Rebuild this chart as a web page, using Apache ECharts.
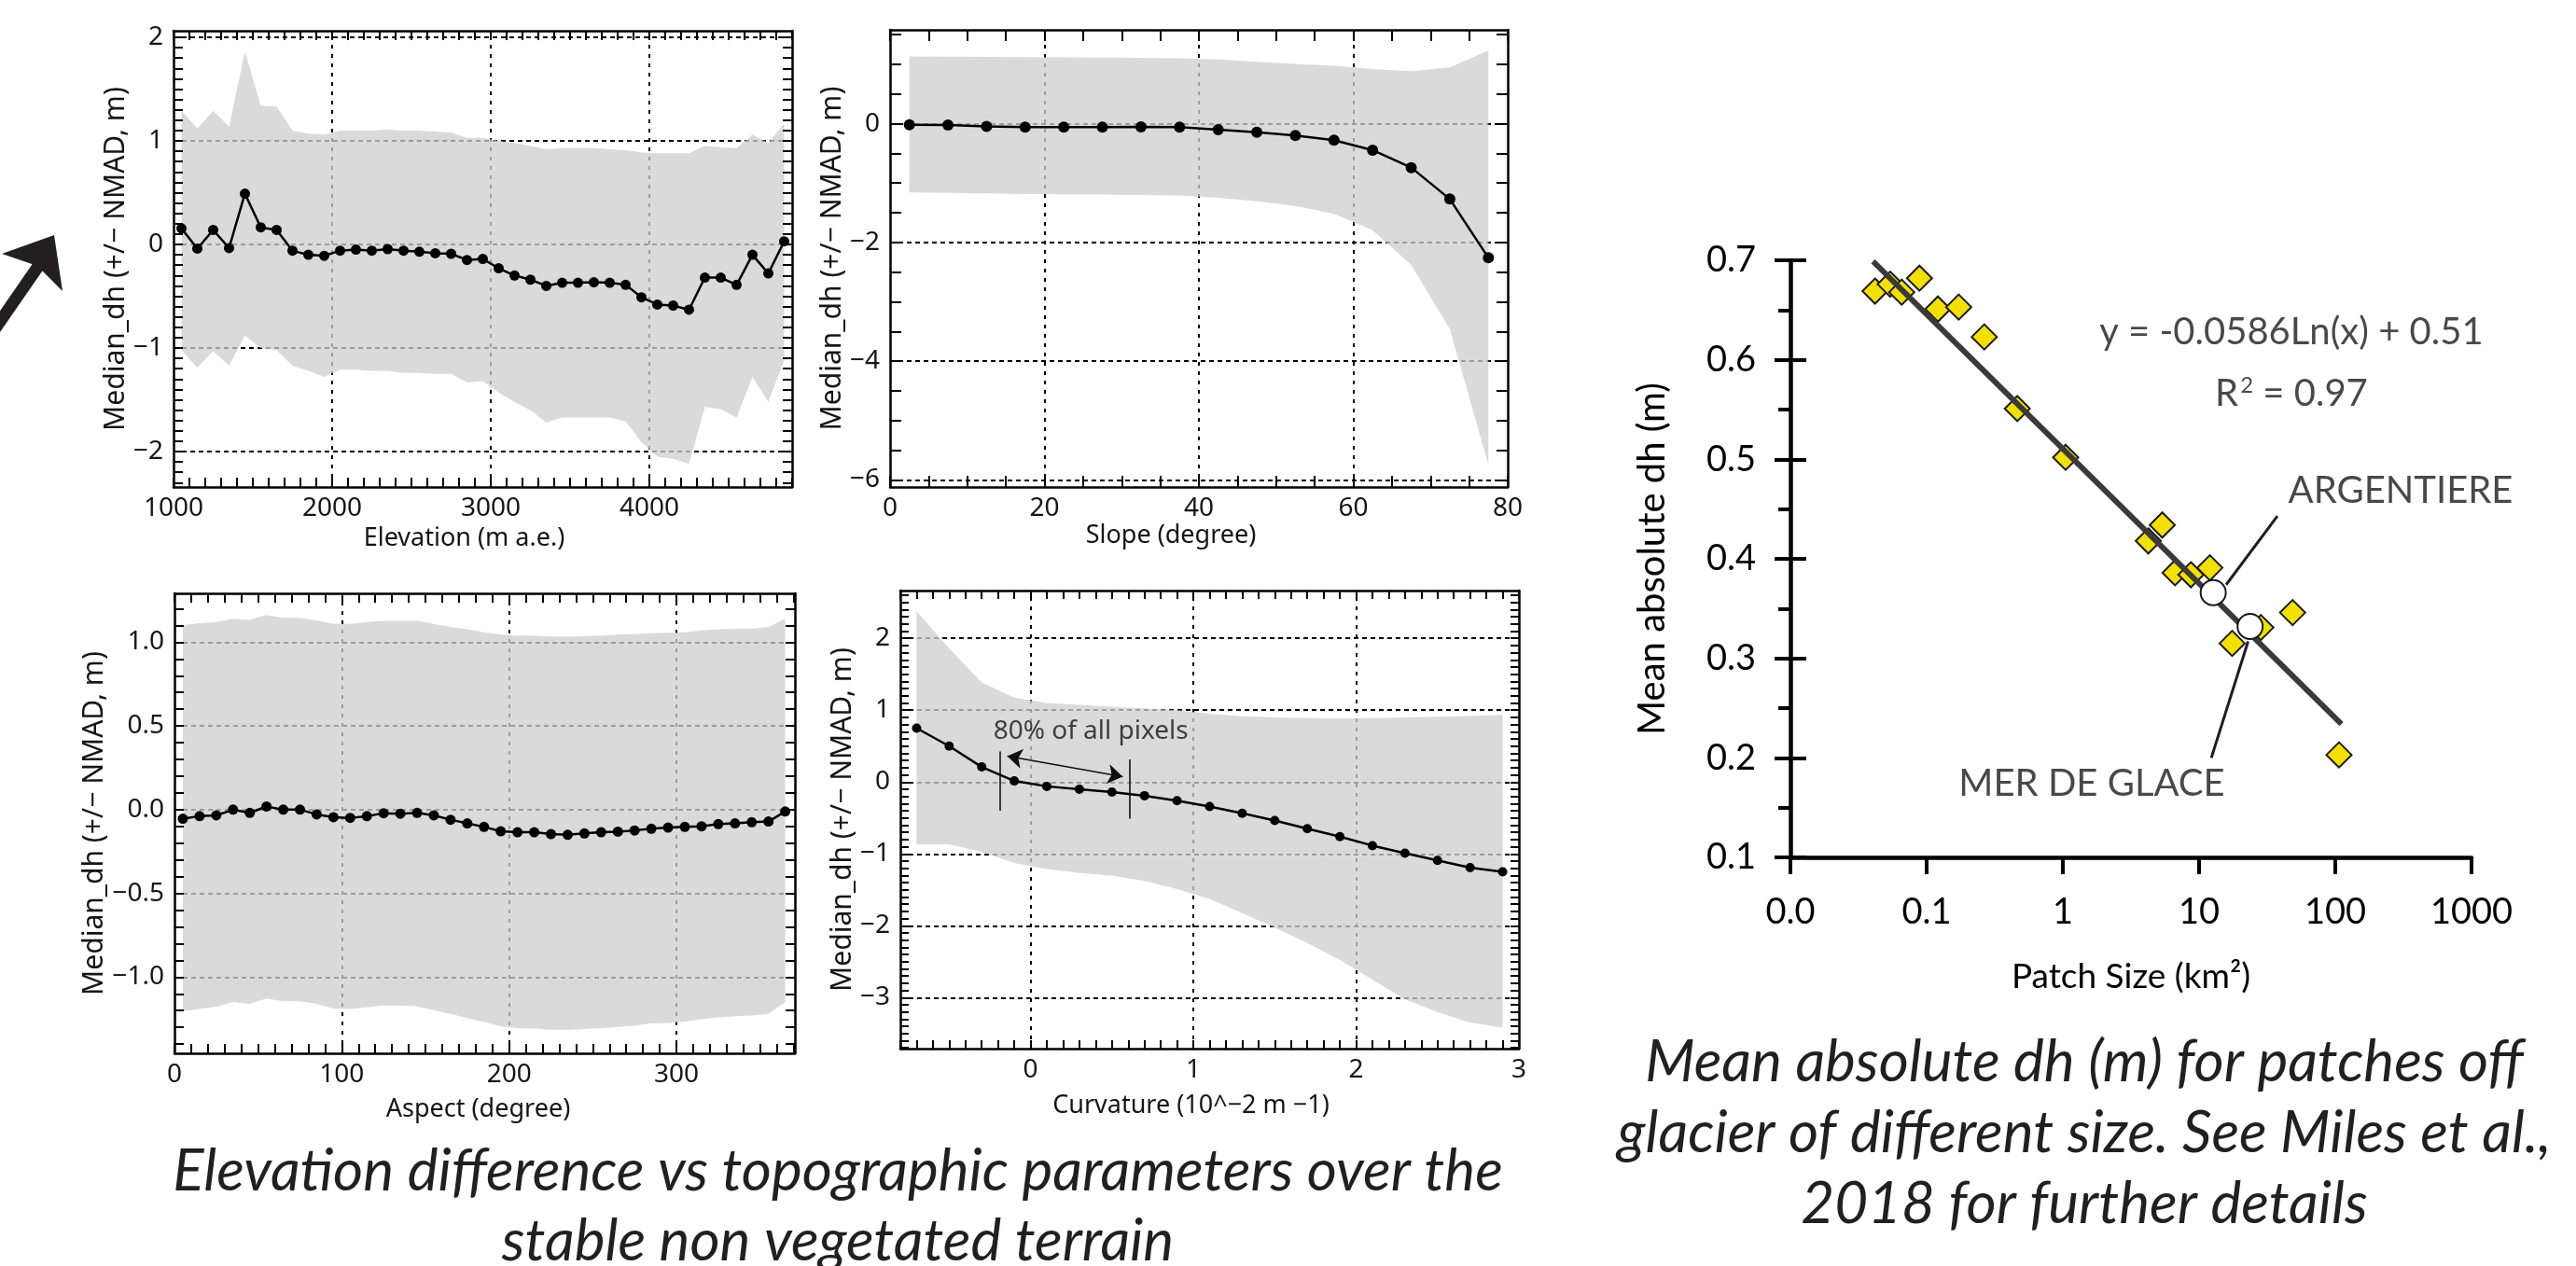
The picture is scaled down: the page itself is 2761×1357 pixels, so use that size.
<!DOCTYPE html>
<html><head><meta charset="utf-8">
<script src="https://cdn.jsdelivr.net/npm/echarts@6/dist/echarts.min.js"></script>
<style>html,body{margin:0;padding:0;background:#fff;}#c{width:2761px;height:1357px;}</style>
</head><body><div id="c"></div>
<script>
// ---------------- DATA ----------------
// Elevation panel
const elevX = [1050,1150,1250,1350,1450,1550,1650,1750,1850,1950,2050,2150,2250,2350,2450,2550,2650,2750,2850,2950,3050,3150,3250,3350,3450,3550,3650,3750,3850,3950,4050,4150,4250,4350,4450,4550,4650,4750,4850];
const elevMedian = [0.155,-0.04,0.14,-0.035,0.49,0.165,0.14,-0.06,-0.10,-0.11,-0.06,-0.05,-0.06,-0.045,-0.06,-0.07,-0.085,-0.09,-0.15,-0.14,-0.23,-0.30,-0.34,-0.40,-0.37,-0.37,-0.365,-0.37,-0.39,-0.51,-0.58,-0.59,-0.63,-0.32,-0.32,-0.39,-0.10,-0.28,0.03];
const elevUpper = [1.29,1.12,1.29,1.14,1.86,1.34,1.33,1.10,1.07,1.06,1.10,1.10,1.10,1.11,1.10,1.10,1.09,1.08,1.03,1.03,1.00,0.98,0.95,0.92,0.93,0.93,0.93,0.92,0.91,0.89,0.88,0.88,0.88,0.95,0.94,0.93,1.06,0.98,1.17];
const elevLower = [-1.02,-1.19,-1.03,-1.17,-0.88,-1.00,-1.02,-1.17,-1.22,-1.28,-1.21,-1.21,-1.22,-1.22,-1.24,-1.24,-1.25,-1.25,-1.33,-1.32,-1.43,-1.52,-1.60,-1.72,-1.67,-1.67,-1.67,-1.67,-1.71,-1.91,-2.05,-2.07,-2.12,-1.57,-1.59,-1.67,-1.28,-1.52,-1.12];
const elevXLabels = [1000,2000,3000,4000];
const elevYLabels = [-2,-1,0,1,2];

// Slope panel
const slopeX = [2.5,7.5,12.5,17.5,22.5,27.5,32.5,37.5,42.5,47.5,52.5,57.5,62.5,67.5,72.5,77.5];
const slopeMedian = [-0.018,-0.024,-0.048,-0.06,-0.06,-0.06,-0.054,-0.06,-0.10,-0.145,-0.20,-0.277,-0.446,-0.74,-1.27,-2.26];
const slopeUpper = [1.133,1.13,1.125,1.12,1.115,1.113,1.11,1.10,1.08,1.04,1.006,0.976,0.92,0.886,0.946,1.235];
const slopeLower = [-1.157,-1.165,-1.175,-1.185,-1.19,-1.195,-1.20,-1.21,-1.25,-1.307,-1.386,-1.518,-1.795,-2.38,-3.46,-5.75];
const slopeXLabels = [0,20,40,60,80];
const slopeYLabels = [-6,-4,-2,0];

// Aspect panel
const aspectX = [5,15,25,35,45,55,65,75,85,95,105,115,125,135,145,155,165,175,185,195,205,215,225,235,245,255,265,275,285,295,305,315,325,335,345,355,365];
const aspectMedian = [-0.054,-0.039,-0.034,0.0,-0.019,0.019,0.0,0.0,-0.028,-0.045,-0.049,-0.039,-0.021,-0.024,-0.019,-0.034,-0.06,-0.082,-0.103,-0.129,-0.135,-0.135,-0.146,-0.15,-0.142,-0.135,-0.131,-0.124,-0.114,-0.107,-0.103,-0.099,-0.086,-0.082,-0.075,-0.071,-0.011];
const aspectUpper = [1.103,1.114,1.12,1.14,1.135,1.163,1.146,1.146,1.131,1.11,1.11,1.12,1.127,1.127,1.127,1.11,1.092,1.077,1.06,1.045,1.04,1.038,1.034,1.034,1.036,1.04,1.045,1.05,1.054,1.056,1.06,1.07,1.077,1.08,1.08,1.092,1.14];
const aspectLower = [-1.204,-1.19,-1.176,-1.148,-1.16,-1.127,-1.144,-1.144,-1.16,-1.187,-1.19,-1.18,-1.17,-1.17,-1.175,-1.197,-1.219,-1.245,-1.268,-1.294,-1.305,-1.308,-1.315,-1.315,-1.31,-1.305,-1.298,-1.29,-1.277,-1.274,-1.266,-1.251,-1.24,-1.234,-1.23,-1.219,-1.148];
const aspectXLabels = [0,100,200,300];
const aspectYLabels = [-1.0,-0.5,0.0,0.5,1.0];

// Curvature panel
const curvX = [-0.7,-0.5,-0.3,-0.1,0.1,0.3,0.5,0.7,0.9,1.1,1.3,1.5,1.7,1.9,2.1,2.3,2.5,2.7,2.9];
const curvMedian = [0.75,0.50,0.21,0.015,-0.06,-0.10,-0.14,-0.19,-0.26,-0.34,-0.435,-0.535,-0.65,-0.76,-0.885,-0.99,-1.09,-1.19,-1.25];
const curvUpper = [2.375,1.86,1.385,1.175,1.10,1.075,1.05,1.025,1.0,0.95,0.915,0.90,0.89,0.885,0.888,0.90,0.91,0.92,0.935];
const curvLower = [-0.865,-0.865,-0.975,-1.125,-1.21,-1.265,-1.30,-1.375,-1.49,-1.625,-1.825,-2.025,-2.24,-2.475,-2.75,-3.025,-3.20,-3.35,-3.415];
const curvXLabels = [0,1,2,3];
const curvYLabels = [-3,-2,-1,0,1,2];
// "80% of all pixels" annotation (data coordinates)
const pctBarX = [-0.19, 0.61];
const pctBarTop = [0.425, 0.315];
const pctBarBottom = [-0.40, -0.51];
const pctArrowX = [-0.143, 0.566];
const pctArrowY = [0.36, 0.075];
const pctTextPos = [0.37, 0.70];

// Patch-size scatter
const patchSize = [0.0418,0.054,0.0656,0.0886,0.121,0.172,0.265,0.463,1.048,4.24,5.37,6.66,8.71,12.0,17.5,28.4,48.6,106.5];
const meanAbsDh = [0.669,0.676,0.668,0.682,0.651,0.653,0.623,0.551,0.502,0.418,0.434,0.386,0.384,0.391,0.315,0.331,0.346,0.203];
const glacierNames = ['ARGENTIERE','MER DE GLACE'];
const glacierSize = [12.7, 23.7];
const glacierDh = [0.366, 0.332];
const trendX = [0.0404, 111];
const trendY = [0.699, 0.234];
const patchXLabels = ['0.0','0.1','1','10','100','1000'];
const argCalloutX = [37.6, 15.8], argCalloutY = [0.443, 0.374];
const mdgCalloutX = [12.3, 22.9], mdgCalloutY = [0.200, 0.317];
const eqText = 'y = -0.0586Ln(x) + 0.51';
const r2Text = '0.97';

// ---------------- BUILD ----------------
const SMALL_FONT = '"Noto Sans", "Open Sans", sans-serif';
const BIG_FONT = 'Lato, "Open Sans", sans-serif';
const INK = '#151515';
const BAND = 'rgba(206,206,206,0.76)';

function range(a, b, s) { const r = []; const n = Math.round((b - a) / s); for (let i = 0; i <= n; i++) r.push(+(a + i * s).toFixed(6)); return r; }
function fmt(dec) { return v => { const a = Math.abs(v); const s = dec ? a.toFixed(dec) : String(+a.toFixed(4)); return (v < -1e-9 ? '\u2212' : '') + s; }; }

const plots = [
  {grid:{left:186,top:33,width:663,height:489}, x:elevX, med:elevMedian, up:elevUpper, lo:elevLower,
   xMin:1000,xMax:4900,yMin:-2.342,yMax:2.063, xt:[1000,4900,100], yt:[-2.3,2.0,0.1],
   xLab:elevXLabels, yLab:elevYLabels, xGrid:[2000,3000,4000], yGrid:[-2,-1,0,1,2], dec:0,
   xName:'Elevation (m a.e.)', xShift:20, xGap:42, yGap:31, tick:10, sym:11},
  {grid:{left:954,top:32,width:662,height:490}, x:slopeX, med:slopeMedian, up:slopeUpper, lo:slopeLower,
   xMin:0,xMax:80,yMin:-6.12,yMax:1.58, xt:[0,80,5], yt:[-6,1.5,0.5],
   xLab:slopeXLabels, yLab:slopeYLabels, xGrid:[20,40,60], yGrid:[-6,-4,-2,0], dec:0,
   xName:'Slope (degree)', xShift:30, xGap:39, yGap:36, tick:12, sym:12},
  {grid:{left:187,top:636,width:665,height:493}, x:aspectX, med:aspectMedian, up:aspectUpper, lo:aspectLower,
   xMin:0,xMax:370.8,yMin:-1.455,yMax:1.292, xt:[0,370,10], yt:[-1.4,1.2,0.1],
   xLab:aspectXLabels, yLab:aspectYLabels, xGrid:[100,200,300], yGrid:[-1,-0.5,0,0.5,1], dec:1,
   xName:'Aspect (degree)', xShift:7, xGap:47, yGap:63, tick:10, sym:11},
  {grid:{left:965,top:633,width:663,height:491}, x:curvX, med:curvMedian, up:curvUpper, lo:curvLower,
   xMin:-0.8,xMax:3.0,yMin:-3.71,yMax:2.665, xt:[-0.8,3.0,0.1], yt:[-3.7,2.6,0.1],
   xLab:curvXLabels, yLab:curvYLabels, xGrid:[0,1,2], yGrid:[-3,-2,-1,0,1,2], dec:0,
   xName:'Curvature (10^\u22122 m \u22121)', xShift:20, xGap:48, yGap:41, tick:9, sym:10}
];

const grids = [], xAxes = [], yAxes = [], series = [];
const frameLine = {color:'#000', width:2.5};
const tickStyle = {color:'#000', width:2};
const labelStyle = {fontFamily:SMALL_FONT, fontSize:28, color:INK};

plots.forEach((p, i) => {
  grids.push(Object.assign({containLabel:false}, p.grid));
  const xt = range(p.xt[0], p.xt[1], p.xt[2]);
  const yt = range(p.yt[0], p.yt[1], p.yt[2]);
  const tick = vals => ({show:true, inside:true, length:p.tick, customValues:vals, lineStyle:tickStyle});
  xAxes.push({type:'value', gridIndex:i, position:'bottom', min:p.xMin, max:p.xMax, z:6,
    axisLine:{show:true, onZero:false, lineStyle:frameLine}, axisTick:tick(xt),
    axisLabel:Object.assign({show:true, customValues:p.xLab, formatter:fmt(0), margin:9, showMinLabel:true, showMaxLabel:true}, labelStyle),
    splitLine:{show:false}, name:p.xName, nameLocation:'middle', nameGap:p.xGap,
    nameTextStyle:{fontFamily:SMALL_FONT, fontSize:27, color:INK, padding:[0, 2 * p.xShift, 0, 0]}});
  xAxes.push({type:'value', gridIndex:i, position:'top', min:p.xMin, max:p.xMax, z:6,
    axisLine:{show:true, onZero:false, lineStyle:frameLine}, axisTick:tick(xt),
    axisLabel:{show:false}, splitLine:{show:false}});
  yAxes.push({type:'value', gridIndex:i, position:'left', min:p.yMin, max:p.yMax, z:6,
    axisLine:{show:true, onZero:false, lineStyle:frameLine}, axisTick:tick(yt),
    axisLabel:Object.assign({show:true, customValues:p.yLab, formatter:fmt(p.dec), margin:11, showMinLabel:true, showMaxLabel:true}, labelStyle),
    splitLine:{show:false}, name:'Median_dh (+/\u2212 NMAD, m)', nameLocation:'middle', nameRotate:90, nameGap:p.yGap,
    nameTextStyle:{fontFamily:SMALL_FONT, fontSize:30, color:INK}});
  yAxes.push({type:'value', gridIndex:i, position:'right', min:p.yMin, max:p.yMax, z:6,
    axisLine:{show:true, onZero:false, lineStyle:frameLine}, axisTick:tick(yt),
    axisLabel:{show:false}, splitLine:{show:false}});

  const xs = p.x, up = p.up, lo = p.lo;
  series.push({type:'custom', xAxisIndex:2*i, yAxisIndex:2*i, z:2, silent:true, clip:true,
    data: xs.map((x, k) => [x, up[k], lo[k]]), encode:{x:0, y:[1,2]},
    renderItem: function(params, api) {
      if (params.dataIndex !== 0) return null;
      const pts = [];
      for (let k = 0; k < xs.length; k++) pts.push(api.coord([xs[k], up[k]]));
      for (let k = xs.length - 1; k >= 0; k--) pts.push(api.coord([xs[k], lo[k]]));
      return {type:'polygon', shape:{points:pts}, style:{fill:BAND}};
    }});
  const gridData = [];
  p.yGrid.forEach(v => gridData.push({yAxis:v, lineStyle:{type:[5,4], color:'#000', width:2}}));
  p.xGrid.forEach(v => gridData.push({xAxis:v, lineStyle:{type:[4,6], color:'#000', width:2}}));
  series.push({type:'line', xAxisIndex:2*i, yAxisIndex:2*i, z:3, silent:true,
    data: xs.map((x, k) => [x, p.med[k]]),
    symbol:'circle', symbolSize:p.sym, showSymbol:true,
    itemStyle:{color:'#000'}, lineStyle:{color:'#000', width:2.5},
    markLine:{silent:true, symbol:'none', z:1, label:{show:false}, animation:false, data:gridData}});
});

// annotation in curvature panel
series.push({type:'scatter', xAxisIndex:6, yAxisIndex:6, z:5, silent:true,
  data:[{value:pctTextPos}], symbol:'circle', symbolSize:1, itemStyle:{color:'transparent'},
  label:{show:true, position:'inside', formatter:'80% of all pixels', fontFamily:SMALL_FONT, fontSize:28, color:INK},
  markLine:{silent:true, z:5, animation:false, label:{show:false}, symbolSize:16,
    lineStyle:{color:'#111', width:1.6, type:'solid'},
    data:[
      [{coord:[pctBarX[0], pctBarTop[0]], symbol:'none'}, {coord:[pctBarX[0], pctBarBottom[0]], symbol:'none'}],
      [{coord:[pctBarX[1], pctBarTop[1]], symbol:'none'}, {coord:[pctBarX[1], pctBarBottom[1]], symbol:'none'}],
      [{coord:[pctArrowX[0], pctArrowY[0]], symbol:'arrow'}, {coord:[pctArrowX[1], pctArrowY[1]], symbol:'arrow'}]
    ]}});

// ---------- scatter panel ----------
grids.push({left:1919, top:279, width:730, height:640});
xAxes.push({type:'log', logBase:10, gridIndex:4, position:'bottom', min:0.01, max:1000,
  axisLine:{show:true, onZero:false, lineStyle:{color:'#000', width:4.5}},
  axisTick:{show:true, inside:false, length:18, lineStyle:{color:'#000', width:4}},
  axisLabel:{show:true, margin:40, fontFamily:BIG_FONT, fontSize:38, color:'#000',
    formatter: v => { const e = Math.round(Math.log10(v)); return patchXLabels[e + 2]; }},
  splitLine:{show:false}, name:'Patch Size (km\u00b2)', nameLocation:'middle', nameGap:110,
  nameTextStyle:{fontFamily:BIG_FONT, fontSize:37, color:'#000'}});
yAxes.push({type:'value', gridIndex:4, position:'left', min:0.1, max:0.7, interval:0.1,
  axisLine:{show:true, onZero:false, lineStyle:{color:'#000', width:4.5}},
  axisTick:{show:true, inside:false, length:17, lineStyle:{color:'#000', width:4}},
  minorTick:{show:true, splitNumber:2, length:13, lineStyle:{color:'#000', width:4}},
  axisLabel:{show:true, margin:37, fontFamily:BIG_FONT, fontSize:38, color:'#000', formatter: v => v.toFixed(1)},
  splitLine:{show:false}, name:'Mean absolute dh (m)', nameLocation:'middle', nameRotate:90, nameGap:128,
  nameTextStyle:{fontFamily:BIG_FONT, fontSize:40, color:'#000'}});
yAxes.push({type:'value', gridIndex:4, position:'left', min:0.1, max:0.7, interval:0.1,
  axisLine:{show:false, onZero:false}, axisTick:{show:true, inside:true, length:17, lineStyle:{color:'#000', width:4}},
  axisLabel:{show:false}, splitLine:{show:false}});

series.push({type:'scatter', xAxisIndex:8, yAxisIndex:8, z:3, silent:true,
  data: patchSize.map((x, k) => [x, meanAbsDh[k]]), symbol:'diamond', symbolSize:27,
  itemStyle:{color:'#f2e100', borderColor:'#1a1a1a', borderWidth:2, opacity:1}});
series.push({type:'line', xAxisIndex:8, yAxisIndex:8, z:4, silent:true,
  data: trendX.map((x, k) => [x, trendY[k]]), symbol:'none', lineStyle:{color:'#3a3a3a', width:6}});
series.push({type:'scatter', xAxisIndex:8, yAxisIndex:8, z:5, silent:true,
  data: glacierSize.map((x, k) => [x, glacierDh[k]]), symbol:'circle', symbolSize:27,
  itemStyle:{color:'#ffffff', borderColor:'#1a1a1a', borderWidth:2, opacity:1}});
series.push({type:'line', xAxisIndex:8, yAxisIndex:8, z:5, silent:true,
  data: argCalloutX.map((x, k) => [x, argCalloutY[k]]), symbol:'none', lineStyle:{color:'#1e1e1e', width:3}});
series.push({type:'line', xAxisIndex:8, yAxisIndex:8, z:5, silent:true,
  data: mdgCalloutX.map((x, k) => [x, mdgCalloutY[k]]), symbol:'none', lineStyle:{color:'#1e1e1e', width:3}});
const annFont = {fontFamily:BIG_FONT, fontSize:40, color:'#1a1a1a'};
series.push({type:'scatter', xAxisIndex:8, yAxisIndex:8, z:6, silent:true,
  symbol:'circle', symbolSize:1, itemStyle:{color:'transparent'},
  label:Object.assign({show:true, position:'inside'}, annFont),
  data:[
    {value:[47.6, 0.628], label:{formatter:eqText}},
    {value:[47.6, 0.566], label:{formatter:'{r|R}{s|2}{r| = ' + r2Text + '}',
      rich:{r:{fontFamily:BIG_FONT, fontSize:40, color:'#1a1a1a'}, s:{fontFamily:BIG_FONT, fontSize:24, color:'#1a1a1a', verticalAlign:'top', padding:[0,0,18,2]}}}},
    {value:[44.8, 0.468], label:{formatter:glacierNames[0], position:'right', distance:0}},
    {value:[1.63, 0.174], label:{formatter:glacierNames[1]}}
  ]});

const capFont = 'italic 62px Lato, "Open Sans", sans-serif';
const graphic = [
  {type:'line', shape:{x1:-12, y1:362, x2:44, y2:281}, style:{stroke:'#231f20', lineWidth:13}},
  {type:'polygon', shape:{points:[[58,252],[2,272],[40,285],[67,312]]}, style:{fill:'#231f20'}},
  {type:'text', x:898, y:1256, style:{text:'Elevation difference vs topographic parameters over the', font:capFont, fill:'#231f20', textAlign:'center', textVerticalAlign:'middle'}},
  {type:'text', x:898, y:1331, style:{text:'stable non vegetated terrain', font:capFont, fill:'#231f20', textAlign:'center', textVerticalAlign:'middle'}},
  {type:'text', x:2234, y:1139, style:{text:'Mean absolute dh (m) for patches off', font:capFont, fill:'#231f20', textAlign:'center', textVerticalAlign:'middle'}},
  {type:'text', x:2234, y:1215, style:{text:'glacier of different size. See Miles et al.,', font:capFont, fill:'#231f20', textAlign:'center', textVerticalAlign:'middle'}},
  {type:'text', x:2234, y:1291, style:{text:'2018 for further details', font:capFont, fill:'#231f20', textAlign:'center', textVerticalAlign:'middle'}}
];

const chart = echarts.init(document.getElementById('c'), null, {renderer:'canvas'});
chart.setOption({
  animation:false, backgroundColor:'#ffffff',
  grid:grids, xAxis:xAxes, yAxis:yAxes, series:series, graphic:graphic
});
</script></body></html>
